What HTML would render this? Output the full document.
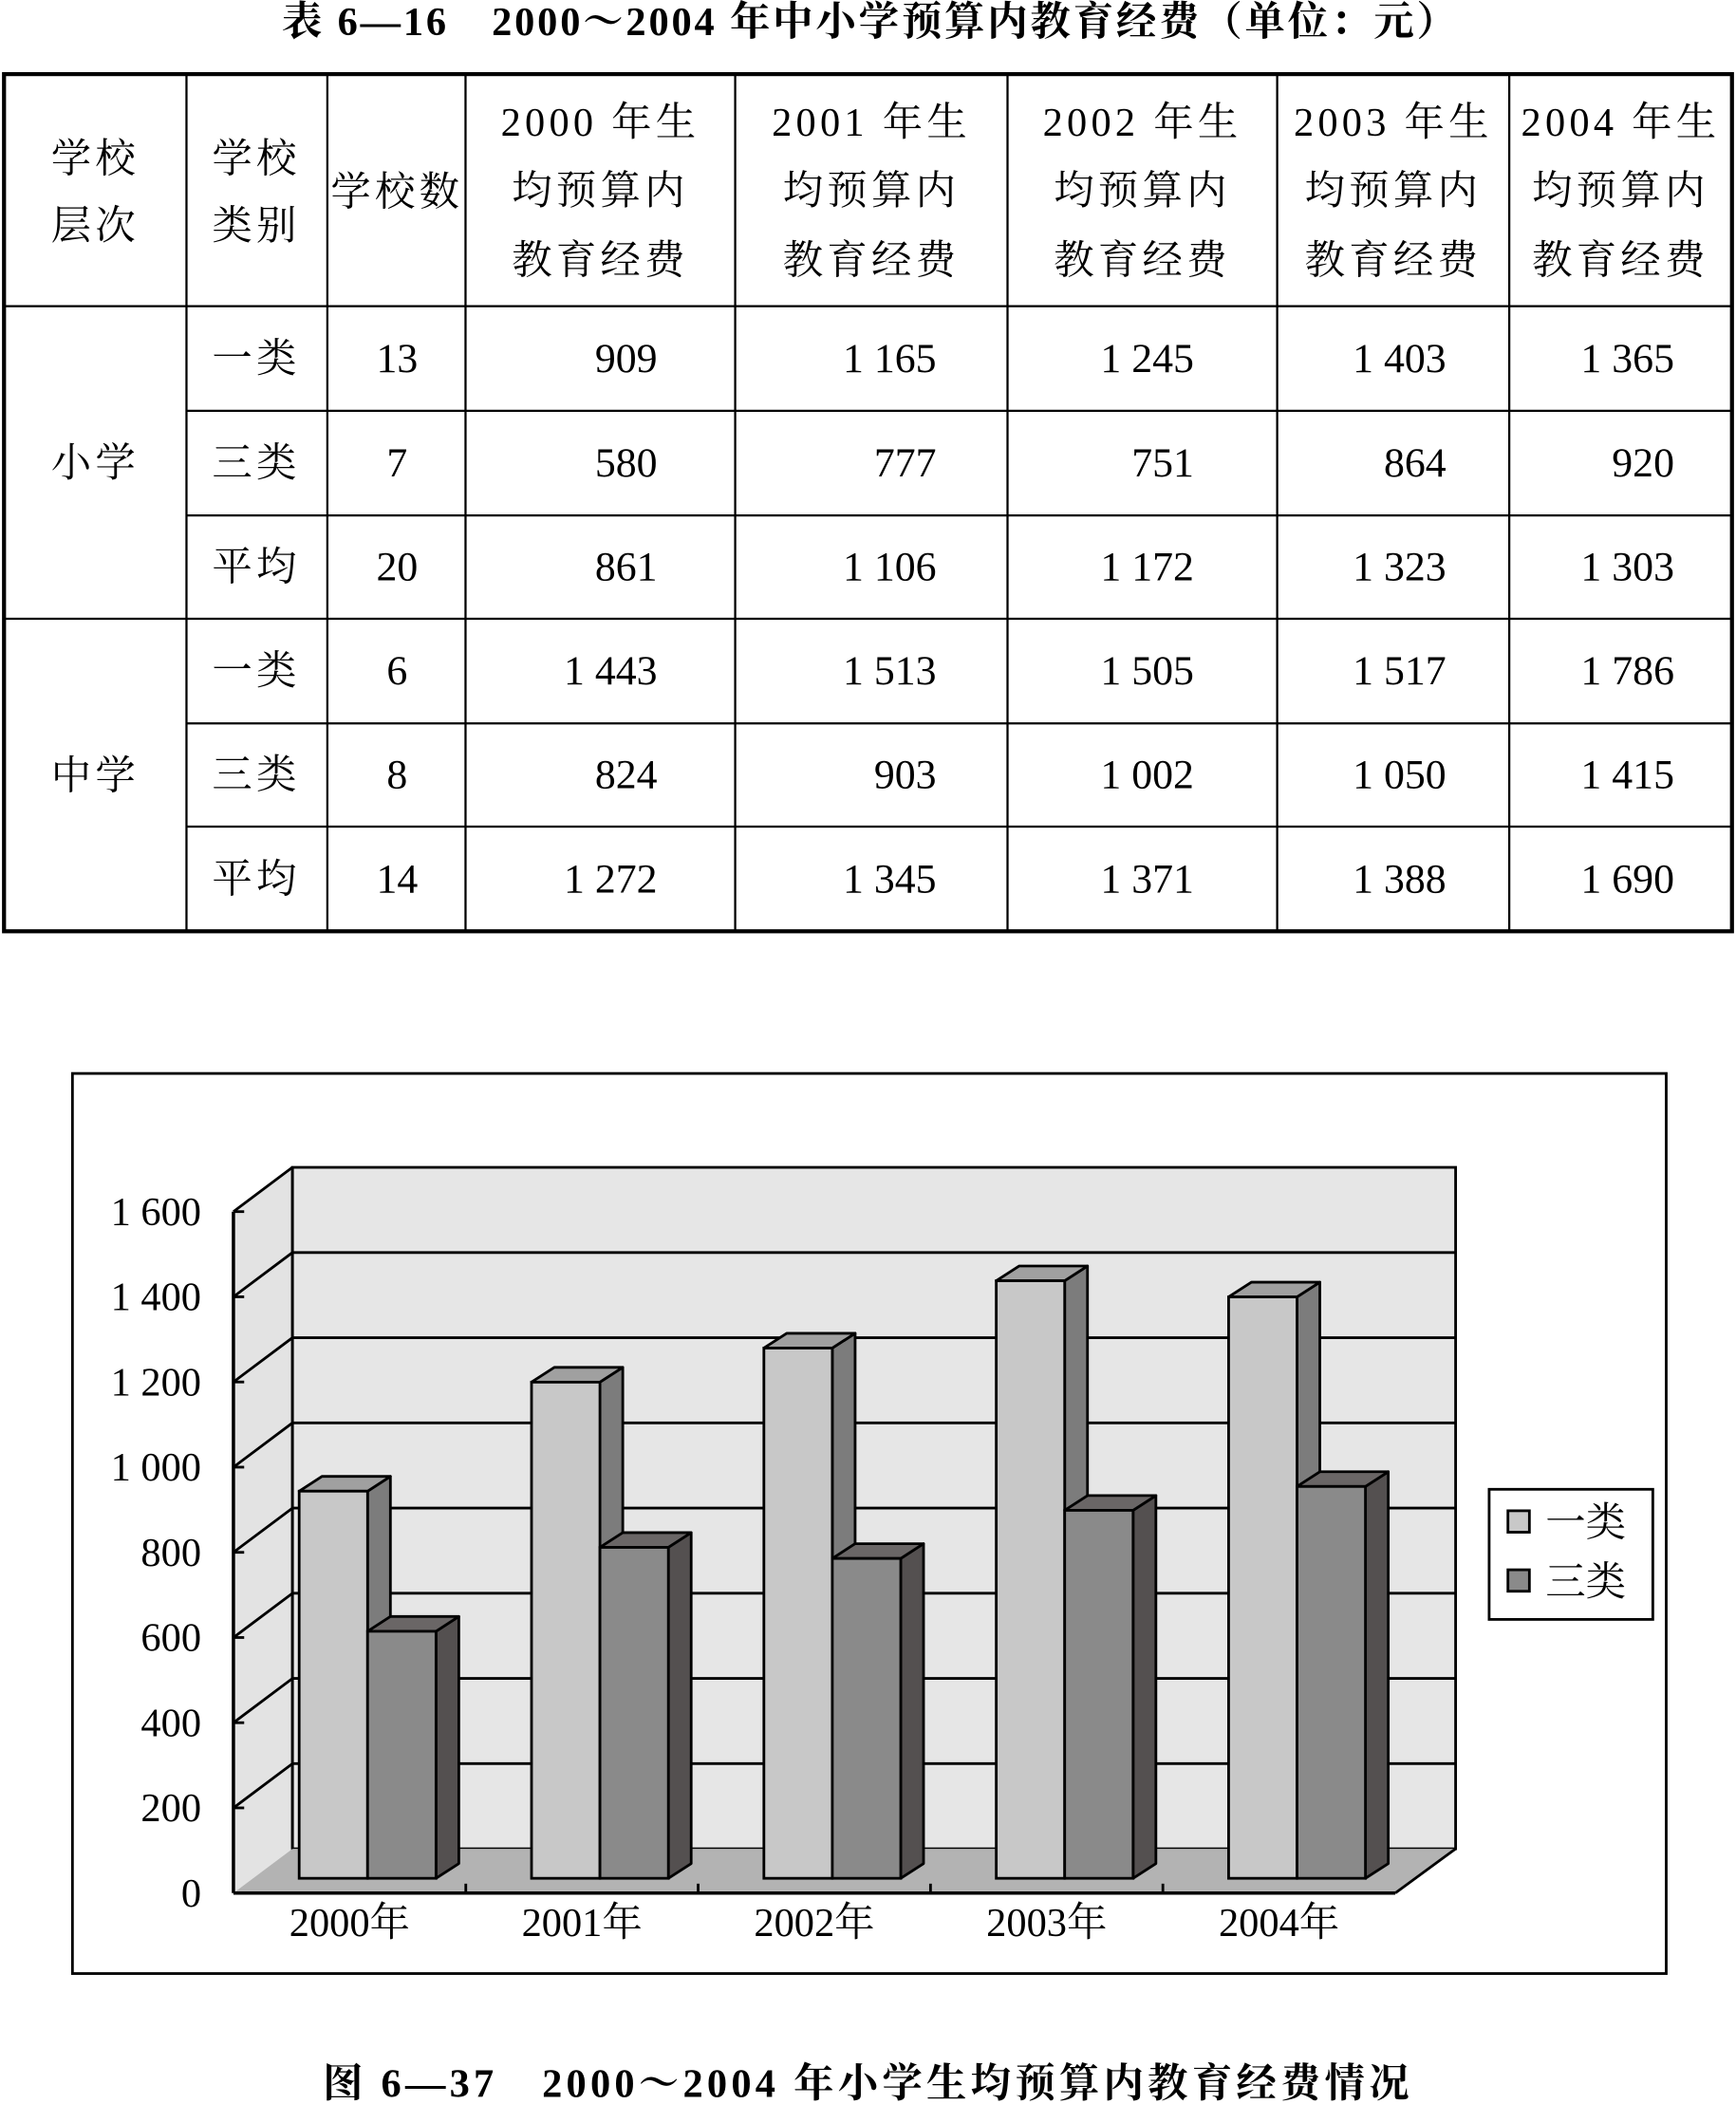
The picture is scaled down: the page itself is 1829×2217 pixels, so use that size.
<!DOCTYPE html>
<html><head><meta charset="utf-8"><style>
html,body{margin:0;padding:0;background:#fff;width:1829px;height:2217px;overflow:hidden}
svg text{font-family:"Liberation Serif","Noto Serif CJK SC","Noto Sans CJK SC",serif;fill:#000}
.b{font-weight:bold}
</style></head><body>
<svg id="page" width="1829" height="2217" viewBox="0 0 1294 1568" xmlns="http://www.w3.org/2000/svg">
<text class="b" x="649" y="26" font-size="30" letter-spacing="2" text-anchor="middle">表 6—16　2000～2004 年中小学预算内教育经费（单位：元）</text>
<g id="table"></g>
<g id="chart"></g>
<text class="b" x="647" y="1563" font-size="30" letter-spacing="3" text-anchor="middle">图 6—37　2000～2004 年小学生均预算内教育经费情况</text>
</svg>
<script>
// table data
const tableYears = ["2000","2001","2002","2003","2004"];
const rowLevel = ["小学","小学","小学","中学","中学","中学"];
const rowType = ["一类","三类","平均","一类","三类","平均"];
const rowCount = ["13","7","20","6","8","14"];
const rowVals = [
 ["909","1 165","1 245","1 403","1 365"],
 ["580","777","751","864","920"],
 ["861","1 106","1 172","1 323","1 303"],
 ["1 443","1 513","1 505","1 517","1 786"],
 ["824","903","1 002","1 050","1 415"],
 ["1 272","1 345","1 371","1 388","1 690"]];
// chart data
const categories = ["2000年","2001年","2002年","2003年","2004年"];
const seriesNames = ["一类","三类"];
const seriesA = [909,1165,1245,1403,1365];
const seriesB = [580,777,751,864,920];
const yTicks = [0,200,400,600,800,1000,1200,1400,1600];
const yTickLabels = ["0","200","400","600","800","1 000","1 200","1 400","1 600"];

const NS="http://www.w3.org/2000/svg";
function mk(parent,tag,attrs,txt){const e=document.createElementNS(NS,tag);for(const k in attrs)e.setAttribute(k,attrs[k]);if(txt!==undefined)e.textContent=txt;parent.appendChild(e);return e;}

// ---- table ----
const T=document.getElementById('table');
const colX=[3,139,244,347,548,751,952,1125,1291];
const rowY=[55,228,306,384,461,539,616,694];
let e;
e=mk(T,'rect',{x:3,y:55,width:1288,height:639,fill:'none',stroke:'#000','stroke-width':3});


for(let i=1;i<colX.length-1;i++){e=mk(T,'line',{x1:colX[i],y1:55,x2:colX[i],y2:694,stroke:'#000','stroke-width':1.6});

}
for(let r=1;r<rowY.length-1;r++){const x1=(r===1||r===4)?3:139;e=mk(T,'line',{x1:x1,y1:rowY[r],x2:1291,y2:rowY[r],stroke:'#000','stroke-width':1.6});

}
function cell(x,y,t,anchor,name,num){const el=mk(T,'text',{x:x,y:y,'font-size':num?31:30,'letter-spacing':num?0:3,'text-anchor':anchor||'middle'},t);

}
cell(71,128,"学校",'middle','header-level');cell(71,178,"层次",'middle','header-level');
cell(191,128,"学校",'middle','header-type');cell(191,178,"类别",'middle','header-type');
cell(296,153,"学校数",'middle','header-count');
for(let j=0;j<5;j++){const cx=(colX[3+j]+colX[4+j])/2;
cell(cx,101,tableYears[j]+" 年生",'middle','header-year');cell(cx,152,"均预算内",'middle','header-year');cell(cx,204,"教育经费",'middle','header-year');}
cell(71,355,"小学",'middle','level-primary');cell(71,588,"中学",'middle','level-middle');
const numRight=[490,698,890,1078,1248];
for(let r=0;r<6;r++){const y=(rowY[r+1]+rowY[r+2])/2+10;
cell(191,y,rowType[r],'middle','row-type');cell(296,y,rowCount[r],'middle','row-count',true);
for(let j=0;j<5;j++)cell(numRight[j],y,rowVals[r][j],'end','row-value',true);}

// ---- chart ----
const C=document.getElementById('chart');
e=mk(C,'rect',{x:54,y:800,width:1188,height:671,fill:'#fff',stroke:'#000','stroke-width':2});


const X0=174,X1=1040,YB=1411,DX=44,DY=-33,H=508,YMAX=1600;
function yF(v){return YB-v*H/YMAX;}
e=mk(C,'polygon',{points:`${X0},${YB} ${X0},${yF(YMAX)} ${X0+DX},${yF(YMAX)+DY} ${X0+DX},${YB+DY}`,fill:'#e3e3e3',stroke:'none'});


e=mk(C,'rect',{x:X0+DX,y:yF(YMAX)+DY,width:X1-X0+1,height:H,fill:'#e6e6e6',stroke:'#000','stroke-width':2});


e=mk(C,'polygon',{points:`${X0},${YB} ${X0+DX},${YB+DY} ${X1+DX+1},${YB+DY} ${X1},${YB}`,fill:'#b3b3b3',stroke:'none'});


e=mk(C,'line',{x1:X1,y1:YB,x2:X1+DX+1,y2:YB+DY,stroke:'#000','stroke-width':2});


yTicks.forEach((v,i)=>{const y=yF(v);
 if(v>0&&v<YMAX){e=mk(C,'line',{x1:X0+DX,y1:y+DY,x2:X1+DX+1,y2:y+DY,stroke:'#000','stroke-width':2});
 
 }
 if(v>0){e=mk(C,'line',{x1:X0,y1:y,x2:X0+DX,y2:y+DY,stroke:'#000','stroke-width':2});
 
 }
 e=mk(C,'line',{x1:X0,y1:y,x2:X0+8,y2:y,stroke:'#000','stroke-width':2});
 
 
 e=mk(C,'text',{x:150,y:y+10,'font-size':30,'text-anchor':'end'},yTickLabels[i]);
 
 });
e=mk(C,'line',{x1:X0+DX,y1:yF(YMAX)+DY,x2:X0+DX,y2:YB+DY,stroke:'#000','stroke-width':2});


const cw=(X1-X0)/categories.length;
const colors=[{f:'#c8c8c8',s:'#7c7c7c',t:'#a0a0a0'},{f:'#8a8a8a',s:'#545050',t:'#6a6666'}];
const bw=51,bdx=17,bdy=-11,base=YB-11;
categories.forEach((c,i)=>{
 [seriesA,seriesB].forEach((ser,s)=>{
  const x=X0+DX/2+i*cw+27+s*bw, yt=base-ser[i]*H/YMAX, col=colors[s];
  const g=mk(C,'g',{});
  
  
  mk(g,'polygon',{points:`${x+bw},${yt} ${x+bw+bdx},${yt+bdy} ${x+bw+bdx},${base+bdy} ${x+bw},${base}`,fill:col.s,stroke:'#000','stroke-width':2,'stroke-linejoin':'round'});
  mk(g,'polygon',{points:`${x},${yt} ${x+bdx},${yt+bdy} ${x+bw+bdx},${yt+bdy} ${x+bw},${yt}`,fill:col.t,stroke:'#000','stroke-width':2,'stroke-linejoin':'round'});
  mk(g,'rect',{x:x,y:yt,width:bw,height:base-yt,fill:col.f,stroke:'#000','stroke-width':2});
 });
 e=mk(C,'text',{x:X0+cw*(i+0.5),y:1443,'font-size':30,'text-anchor':'middle'},c);
 
 
 if(i>0){e=mk(C,'line',{x1:X0+cw*i,y1:YB,x2:X0+cw*i,y2:YB-7,stroke:'#000','stroke-width':2});
 
 }
});
e=mk(C,'line',{x1:X0,y1:yF(YMAX),x2:X0,y2:YB,stroke:'#000','stroke-width':2.5});


e=mk(C,'line',{x1:X0,y1:YB,x2:X1,y2:YB,stroke:'#000','stroke-width':2.5});


const L=mk(C,'g',{});


mk(L,'rect',{x:1110,y:1110,width:122,height:97,fill:'#fff',stroke:'#000','stroke-width':2});
seriesNames.forEach((n,s)=>{
 const sw=mk(L,'rect',{x:1124,y:1126+s*44,width:16,height:16,fill:colors[s].f,stroke:'#000','stroke-width':2});
 
 
 const t=mk(L,'text',{x:1152,y:1145+s*44,'font-size':30},n);
 
 
});
</script>
</body></html>
